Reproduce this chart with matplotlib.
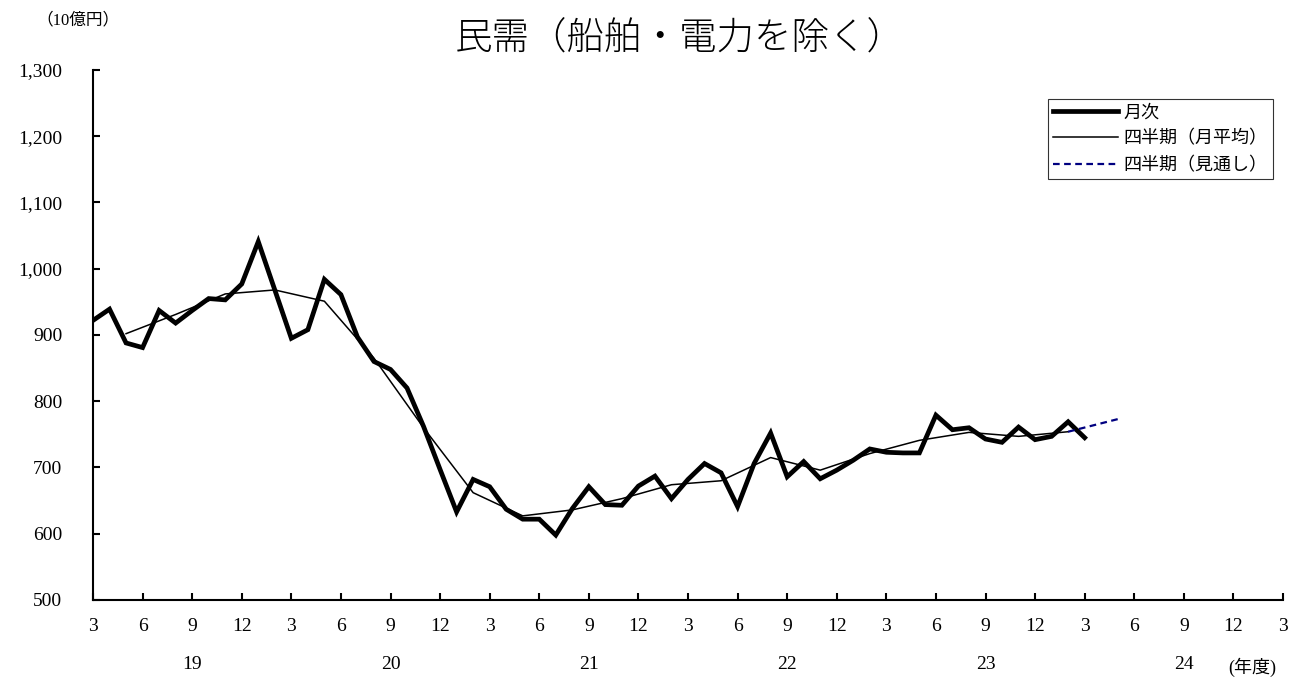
import numpy as np
import matplotlib
matplotlib.use("Agg")
import matplotlib.pyplot as plt

plt.rcParams['font.family'] = ['Liberation Serif', 'Noto Sans CJK JP']

# monthly values, Mar 2019 .. Mar 2024 (10億円)
monthly = [922, 939, 888, 881, 937, 918, 937, 955, 953, 977,
           1041, 968, 895, 908, 984, 961, 897, 860, 848, 820,
           762, 697, 633, 682, 671, 637, 622, 622, 598, 638,
           671, 644, 643, 672, 687, 653, 682, 706, 692, 641,
           706, 752, 686, 709, 683, 696, 711, 728, 723, 722,
           722, 779, 757, 760, 743, 738, 761, 742, 747, 769,
           745]
# quarterly monthly averages, FY19 Q1 .. FY23 Q4 (plotted at mid-quarter month)
quarterly = [902, 931, 962, 968, 951, 865, 760, 662, 627, 636,
             653, 674, 680, 715, 696, 721, 741, 753, 747, 754]
# outlook: FY23 Q4 -> FY24 Q1
outlook = [754, 773]

years = ["19", "20", "21", "22", "23", "24"]
yticks = [500, 600, 700, 800, 900, 1000, 1100, 1200, 1300]

x_month = np.arange(len(monthly))
x_quarter = 2 + 3 * np.arange(len(quarterly))
x_outlook = x_quarter[-1] + 3 * np.arange(len(outlook))

fig = plt.figure(figsize=(13.03, 6.81), dpi=100)
ax = fig.add_axes([93 / 1303, 1 - 600 / 681, 1190 / 1303, 530 / 681])

ax.plot(x_month, monthly, color="black", lw=3.4, solid_joinstyle="miter",
        label="月次")
ax.plot(x_quarter, quarterly, color="black", lw=1.1, label="四半期（月平均）")
ax.plot(x_outlook, outlook, color="#000080", lw=1.6, ls=(0, (3, 2)),
        label="四半期（見通し）")

ax.set_xlim(0, 72)
ax.set_ylim(500, 1300)
ax.spines["top"].set_visible(False)
ax.spines["right"].set_visible(False)
ax.spines["left"].set_linewidth(1.5)
ax.spines["bottom"].set_linewidth(1.5)

xt = np.arange(0, 73, 3)
ax.set_xticks(xt)
ax.set_xticklabels([str((2 + i) % 12 + 1) for i in xt])
ax.set_yticks(yticks)
ax.set_yticklabels([f"{v:,}" for v in yticks])
ax.tick_params(axis="x", direction="in", length=5, width=1.5, pad=13, labelsize=14)
ax.tick_params(axis="y", direction="in", length=5, width=1.5, pad=22, labelsize=14)

for i, yr in enumerate(years):
    ax.text(6 + 12 * i, -0.122, yr, transform=ax.get_xaxis_transform(),
            ha="center", va="center", fontsize=14)
fig.text(1252 / 1303, 1 - 667 / 681, "(年度)", ha="center", va="center", fontsize=13)

fig.text(680 / 1303, 1 - 40 / 681, "民需（船舶・電力を除く）", ha="center", va="center",
         fontsize=27, fontweight="light")
fig.text(78 / 1303, 1 - 20 / 681, "（10億円）", ha="center", va="center", fontsize=12)

leg = ax.legend(loc="upper right", bbox_to_anchor=(1273 / 1303, 1 - 99 / 681),
                bbox_transform=fig.transFigure, fontsize=13, frameon=True,
                fancybox=False, edgecolor="black", handlelength=3.6,
                handletextpad=0.3, labelspacing=0.5, borderpad=0.3,
                borderaxespad=0)
leg.get_frame().set_linewidth(0.8)

fig.savefig("out.png", dpi=100)
